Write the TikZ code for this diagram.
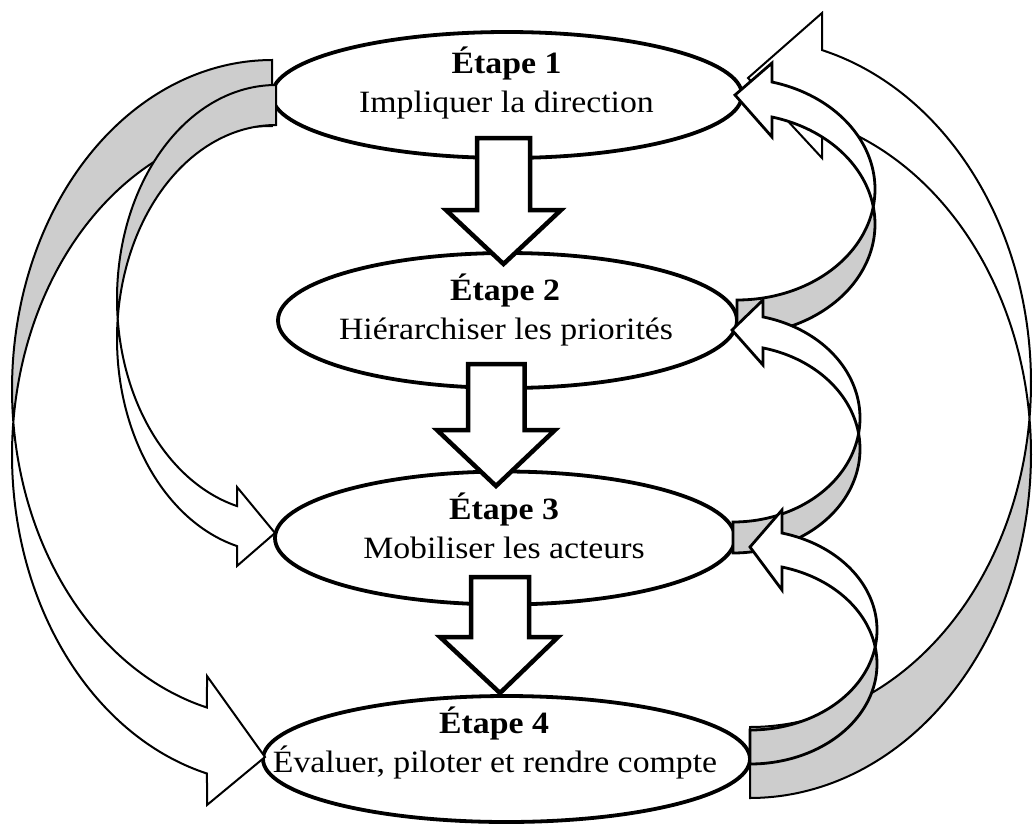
\documentclass[tikz,border=0pt]{standalone}
\usepackage{fontspec}
\setmainfont{Liberation Serif}[FakeStretch=1.09]
\usetikzlibrary{shapes.geometric}
\definecolor{shade}{HTML}{CDCDCD}
\begin{document}
\begin{tikzpicture}[x=1pt,y=-1pt,
  stage/.style={draw, line width=3.8pt, ellipse, fill=white, inner sep=0pt},
  downarrow/.style={draw, line width=4.5pt, fill=white, line join=miter},
  backband/.style={draw, fill=shade, line join=miter},
  frontband/.style={draw, fill=white, line join=miter},
  thinline/.style={line width=2pt},
  midline/.style={line width=2.8pt},
  title/.style={font=\fontsize{31}{36}\selectfont\bfseries, anchor=base, inner sep=0pt},
  desc/.style={font=\fontsize{31}{36}\selectfont, anchor=base, inner sep=0pt}]
\useasboundingbox (0,0) rectangle (1033,825);

% stages
\node[stage, minimum width=470pt, minimum height=126pt] (e1) at (507,95) {};
\node[stage, minimum width=459pt, minimum height=135pt] (e2) at (507.5,320.5) {};
\node[stage, minimum width=460pt, minimum height=133pt] (e3) at (505,538) {};
\node[stage, minimum width=487pt, minimum height=126pt] (e4) at (506.5,759) {};

% ---- left big curved arrow A (E1 -> E4)
\path[backband, thinline]
  plot[domain=270:174.24,samples=80,variable=\t] ({272+260*cos(\t)},{389+329*sin(\t)})
  -- plot[domain=185.76:270,samples=80,variable=\t] ({272+260*cos(\t)},{455+329*sin(\t)}) -- cycle;
\path[frontband, thinline]
  plot[domain=174.24:104.48,samples=80,variable=\t] ({272+260*cos(\t)},{389+329*sin(\t)})
  -- (207,676) -- (265,757) -- (207,805)
  -- plot[domain=104.48:185.76,samples=80,variable=\t] ({272+260*cos(\t)},{455+329*sin(\t)}) -- cycle;

% ---- left small curved arrow F (E1 -> E3)
\path[backband, thinline]
  plot[domain=270:174.63,samples=80,variable=\t] ({276+159*cos(\t)},{298.8+213.8*sin(\t)})
  -- plot[domain=185.37:270,samples=80,variable=\t] ({276+159*cos(\t)},{338.8+213.8*sin(\t)}) -- cycle;
\path[frontband, thinline]
  plot[domain=174.63:104.2,samples=80,variable=\t] ({276+159*cos(\t)},{298.8+213.8*sin(\t)})
  -- (237,487) -- (275,533) -- (237,566)
  -- plot[domain=104.2:185.37,samples=80,variable=\t] ({276+159*cos(\t)},{338.8+213.8*sin(\t)}) -- cycle;

% ---- right big curved arrow B (E4 -> E1)
\path[backband, thinline]
  plot[domain=90:-5.92,samples=80,variable=\t] ({750+281*cos(\t)},{453.8+344.2*sin(\t)})
  -- plot[domain=5.92:90,samples=80,variable=\t] ({750+281*cos(\t)},{382.8+344.2*sin(\t)}) -- cycle;
\path[frontband, thinline]
  plot[domain=5.92:-75.15,samples=80,variable=\t] ({750+281*cos(\t)},{382.8+344.2*sin(\t)})
  -- (822,13) -- (748,78) -- (822,158)
  -- plot[domain=-75.15:-5.92,samples=80,variable=\t] ({750+281*cos(\t)},{453.8+344.2*sin(\t)}) -- cycle;

% ---- right small curved arrow C (E2 -> E1)
\path[backband, midline]
  plot[domain=90:-9.09,samples=60,variable=\t] ({737+138*cos(\t)},{224.2+110.8*sin(\t)})
  -- plot[domain=9.09:90,samples=60,variable=\t] ({737+138*cos(\t)},{189.2+110.8*sin(\t)}) -- cycle;
\path[frontband, midline]
  plot[domain=9.09:-75.31,samples=60,variable=\t] ({737+138*cos(\t)},{189.2+110.8*sin(\t)})
  -- (772,63) -- (735,95) -- (772,137)
  -- plot[domain=-75.31:-9.09,samples=60,variable=\t] ({737+138*cos(\t)},{224.2+110.8*sin(\t)}) -- cycle;

% ---- right small curved arrow D (E3 -> E2)
\path[backband, midline]
  plot[domain=90:-8.57,samples=60,variable=\t] ({733+127*cos(\t)},{449+104*sin(\t)})
  -- plot[domain=8.57:90,samples=60,variable=\t] ({733+127*cos(\t)},{418+104*sin(\t)}) -- cycle;
\path[frontband, midline]
  plot[domain=8.57:-76.34,samples=60,variable=\t] ({733+127*cos(\t)},{418+104*sin(\t)})
  -- (763,300) -- (732,330) -- (763,365)
  -- plot[domain=-76.34:-8.57,samples=60,variable=\t] ({733+127*cos(\t)},{449+104*sin(\t)}) -- cycle;

% ---- right small curved arrow E (E4 -> E3)
\path[backband, midline]
  plot[domain=90:-9.78,samples=60,variable=\t] ({750+127*cos(\t)},{663.9+100.1*sin(\t)})
  -- plot[domain=9.78:90,samples=60,variable=\t] ({750+127*cos(\t)},{629.9+100.1*sin(\t)}) -- cycle;
\path[frontband, midline]
  plot[domain=9.78:-75.4,samples=60,variable=\t] ({750+127*cos(\t)},{629.9+100.1*sin(\t)})
  -- (782,510) -- (750,547) -- (782,590)
  -- plot[domain=-75.4:-9.78,samples=60,variable=\t] ({750+127*cos(\t)},{663.9+100.1*sin(\t)}) -- cycle;

% ---- down block arrows
\path[downarrow] (477,138) -- (530,138) -- (530,210) -- (561,210) -- (503.5,264) -- (446,210) -- (477,210) -- cycle;
\path[downarrow] (468,364) -- (524.5,364) -- (524.5,430) -- (555,430) -- (496,486) -- (437,430) -- (468,430) -- cycle;
\path[downarrow] (471,577) -- (529,577) -- (529,637) -- (558,637) -- (500,693) -- (440,637) -- (471,637) -- cycle;

% ---- texts
\node[title] (t1a) at (506.5,73) {Étape 1};
\node[desc]  (t1b) at (506.5,112) {Impliquer la direction};
\node[title] (t2a) at (505,300) {Étape 2};
\node[desc]  (t2b) at (506,339) {Hiérarchiser les priorités};
\node[title] (t3a) at (504,519) {Étape 3};
\node[desc]  (t3b) at (504,558) {Mobiliser les acteurs};
\node[title] (t4a) at (494,733) {Étape 4};
\node[desc]  (t4b) at (495,772) {Évaluer, piloter et rendre compte};
\end{tikzpicture}
\end{document}
